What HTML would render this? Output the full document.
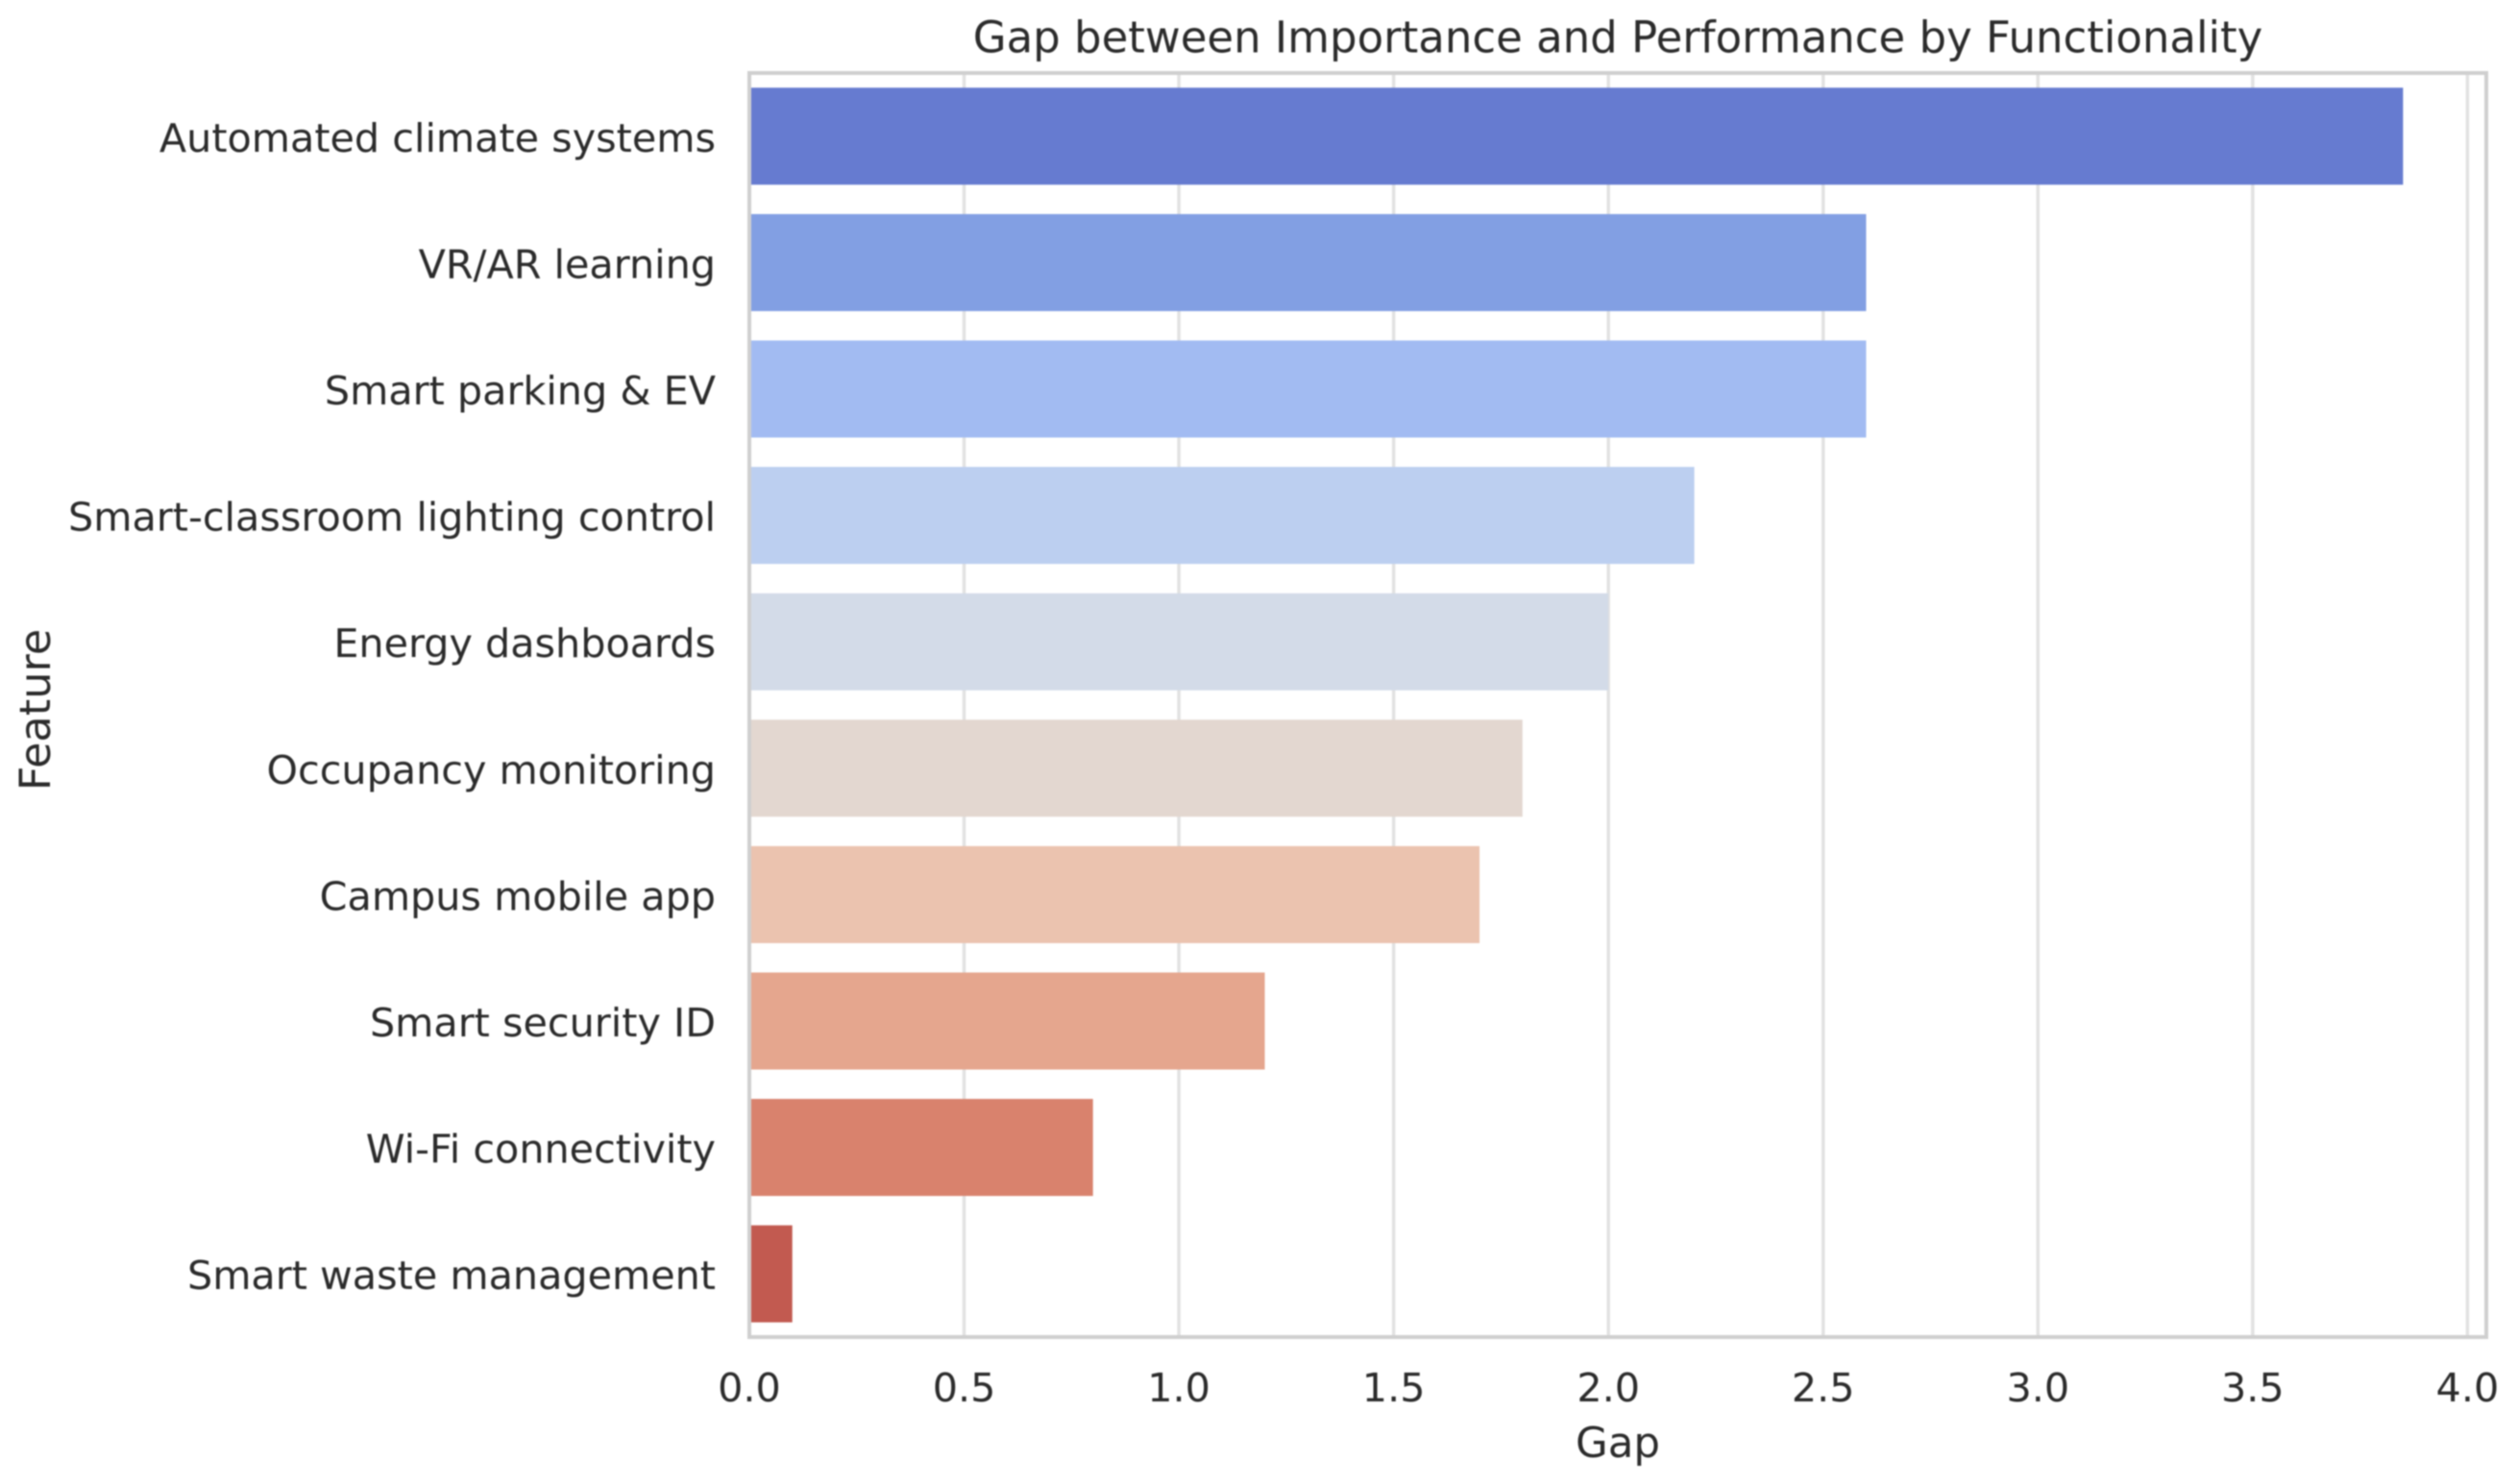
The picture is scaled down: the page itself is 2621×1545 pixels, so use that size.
<!DOCTYPE html>
<html lang="en">
<head>
<meta charset="utf-8">
<title>Gap between Importance and Performance by Functionality</title>
<style>
  html, body { margin: 0; padding: 0; background: #ffffff; }
  #chart { display: block; width: 2621px; height: 1545px; filter: blur(0.9px); }
  text { font-family: "DejaVu Sans", "Liberation Sans", sans-serif; fill: #2b2b2b; }
</style>
</head>
<body>
<svg id="chart" xmlns="http://www.w3.org/2000/svg" width="2621" height="1545" viewBox="0 0 2621 1545">
  <rect x="0" y="0" width="2621" height="1545" fill="#ffffff"></rect>
  <g id="grid"></g>
  <g id="bars"></g>
  <rect id="frame" fill="none" stroke="#cfcfcf" stroke-width="4"></rect>
  <g id="yLabels"></g>
  <g id="xLabels"></g>
  <text x="1684" y="39" font-size="45" text-anchor="middle" dominant-baseline="central">Gap between Importance and Performance by Functionality</text>
  <text x="1684" y="1503" font-size="43.5" text-anchor="middle" dominant-baseline="central">Gap</text>
  <text transform="translate(37 739) rotate(-90)" font-size="44.6" text-anchor="middle" dominant-baseline="central">Feature</text>
</svg>
<script>
const categories = ["Automated climate systems", "VR/AR learning", "Smart parking & EV", "Smart-classroom lighting control", "Energy dashboards", "Occupancy monitoring", "Campus mobile app", "Smart security ID", "Wi-Fi connectivity", "Smart waste management"];
const gapValues = [3.85, 2.6, 2.6, 2.2, 2.0, 1.8, 1.7, 1.2, 0.8, 0.1];
const xTicks = [0, 0.5, 1, 1.5, 2, 2.5, 3, 3.5, 4];
const palette = ["#667bd0", "#829fe3", "#a2bbf2", "#bccff0", "#d3dbe8", "#e3d7d0", "#ebc3af", "#e5a68e", "#d9826d", "#c25a50"];

const NS = "http://www.w3.org/2000/svg";
const plot = { left: 780, right: 2588, top: 76, bottom: 1392 };
const xUnit = 447.1;
const bandHeight = (plot.bottom - plot.top) / categories.length;
const barHeight = 101;
const xScale = function (v) { return plot.left + v * xUnit; };
const yBand = function (i) { return plot.top + bandHeight * (i + 0.5); };

const frame = document.getElementById("frame");
frame.setAttribute("x", plot.left);
frame.setAttribute("y", plot.top);
frame.setAttribute("width", plot.right - plot.left);
frame.setAttribute("height", plot.bottom - plot.top);

const gridGroup = document.getElementById("grid");
const xLabelGroup = document.getElementById("xLabels");
xTicks.forEach(function (t) {
  const line = document.createElementNS(NS, "line");
  
  
  line.setAttribute("x1", xScale(t));
  line.setAttribute("x2", xScale(t));
  line.setAttribute("y1", plot.top);
  line.setAttribute("y2", plot.bottom);
  line.setAttribute("stroke", "#e2e2e2");
  line.setAttribute("stroke-width", "3.5");
  gridGroup.appendChild(line);

  const label = document.createElementNS(NS, "text");
  
  
  label.setAttribute("x", xScale(t));
  label.setAttribute("y", 1445);
  label.setAttribute("font-size", "41.3");
  label.setAttribute("text-anchor", "middle");
  label.setAttribute("dominant-baseline", "central");
  label.textContent = t.toFixed(1);
  xLabelGroup.appendChild(label);
});

const barGroup = document.getElementById("bars");
const yLabelGroup = document.getElementById("yLabels");
categories.forEach(function (name, i) {
  const bar = document.createElementNS(NS, "rect");
  
  
  bar.setAttribute("x", xScale(0));
  bar.setAttribute("y", yBand(i) - barHeight / 2);
  bar.setAttribute("width", xScale(gapValues[i]) - xScale(0));
  bar.setAttribute("height", barHeight);
  bar.setAttribute("fill", palette[i]);
  barGroup.appendChild(bar);

  const label = document.createElementNS(NS, "text");
  
  
  label.setAttribute("x", 745);
  label.setAttribute("y", yBand(i) + 2);
  label.setAttribute("font-size", "41.3");
  label.setAttribute("text-anchor", "end");
  label.setAttribute("dominant-baseline", "central");
  label.textContent = name;
  yLabelGroup.appendChild(label);
});
</script>
</body>
</html>
